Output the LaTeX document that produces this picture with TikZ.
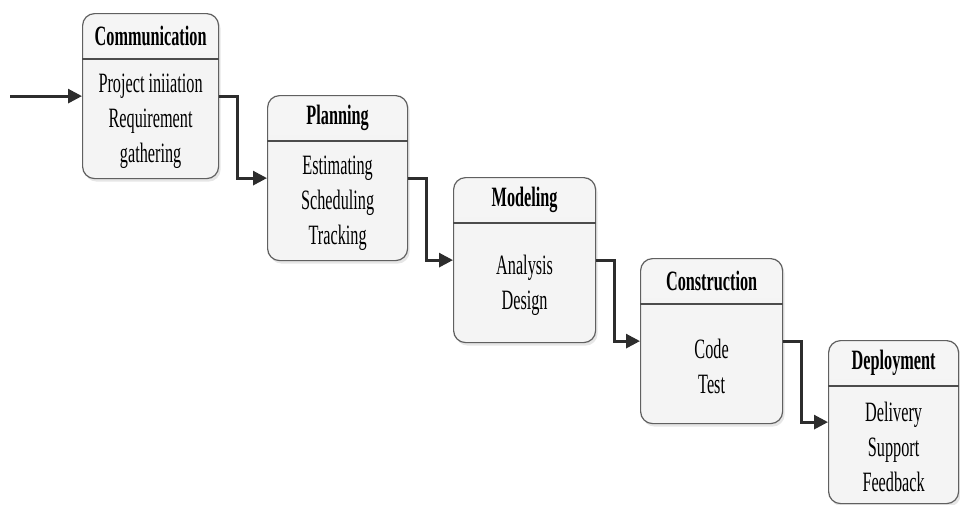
\documentclass[tikz,border=0pt]{standalone}
\usepackage{fontspec}
\newfontfamily\stagefont[FakeStretch=0.58]{Liberation Serif}
\usetikzlibrary{positioning,arrows.meta,shadows}

\tikzset{
	stage/.style={rectangle, rounded corners=12pt, draw=gray!75!black, line width=1.2pt,
		top color=gray!8, middle color=white, bottom color=gray!9,
		drop shadow={shadow xshift=2pt, shadow yshift=-3pt, opacity=0.2}, inner sep=0},
	divider/.style={draw=gray!60!black, line width=1.2pt},
	stagehead/.style={font=\stagefont\bfseries\fontsize{28}{32}\selectfont, inner sep=0},
	stagelines/.style={font=\stagefont\fontsize{28}{35}\selectfont, align=center, inner sep=0},
	flow/.style={draw=gray!35!black, line width=2.8pt, -{Triangle[length=14pt,width=14pt]}}
}

\begin{document}
\begin{tikzpicture}[x=1pt, y=-1pt]
	\useasboundingbox (0,0) rectangle (960,504);
	\foreach \x/\y/\w/\h/\n/\head/\lines in {82/13/136/165/0/Communication/{Project iniiation\\Requirement\\gathering},
		267/95/140/165/1/Planning/{Estimating\\Scheduling\\Tracking},
		453/177/142/165/2/Modeling/{Analysis\\Design},
		640/258/142/165/3/Construction/{Code\\Test},
		828/340/130/163/4/Deployment/{Delivery\\Support\\Feedback}} {
		\node[stage, anchor=north west, minimum width=\w pt, minimum height=\h pt] (s\n) at (\x,\y) {};
		\draw[divider] ([yshift=-46pt]s\n.north west) -- ([yshift=-46pt]s\n.north east);
		\node[stagehead] (h\n) at ([yshift=-23pt]s\n.north) {\head};
		\node[stagelines] (l\n) at ([yshift=-25pt]s\n.center) {\lines};
	};
	\coordinate[left=72pt of s0.west] (start);
	\draw[flow] (start) -- (s0.west);
	\foreach \a/\b in {0/1,1/2,2/3,3/4} {
		\draw[flow] (s\a.east) -- ++(18,0) |- (s\b.west);
	};
\end{tikzpicture}
\end{document}
